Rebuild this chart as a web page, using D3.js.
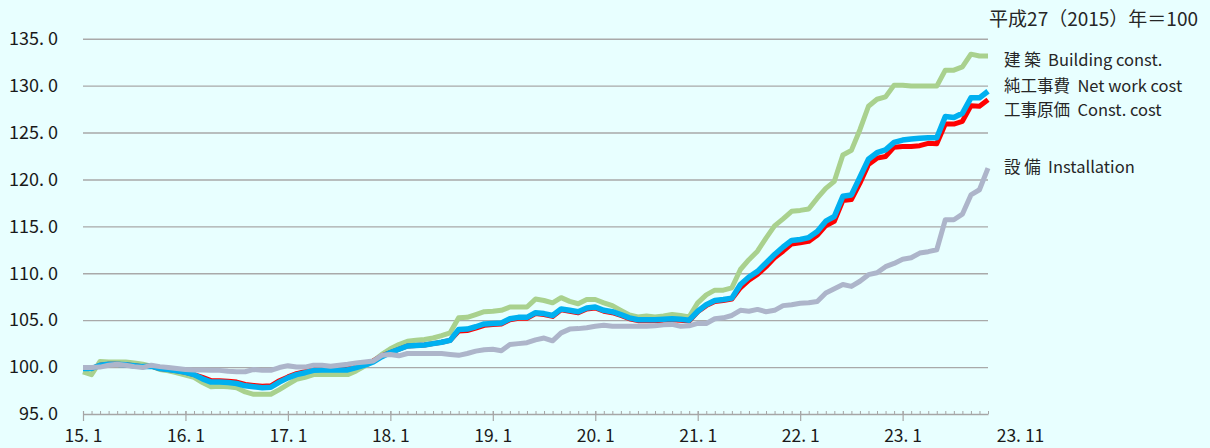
<!DOCTYPE html>
<html>
<head>
<meta charset="utf-8">
<script src="https://cdn.jsdelivr.net/npm/d3@7"></script>
<style>
  html, body { margin: 0; padding: 0; background: #e8ffff; }
  svg { display: block; font-family: "Noto Sans CJK JP", "Noto Sans", sans-serif; }
</style>
</head>
<body>
<script>
// monthly index, 2015.1 .. 2023.11 (base 2015 = 100)
const building = [
  99.5, 99.2, 100.6, 100.55, 100.55, 100.55, 100.45, 100.3, 100.1, 99.75, 99.6, 99.4,
  99.15, 98.9, 98.35, 97.9, 97.95, 97.9, 97.8, 97.35, 97.1, 97.1, 97.1, 97.6,
  98.15, 98.7, 98.9, 99.2, 99.2, 99.2, 99.2, 99.2, 99.6, 100.1, 100.65, 101.35,
  101.95, 102.4, 102.75, 102.85, 102.95, 103.1, 103.35, 103.65, 105.25, 105.3, 105.6, 105.9,
  105.95, 106.05, 106.4, 106.4, 106.4, 107.25, 107.1, 106.85, 107.4, 107.0, 106.75, 107.2,
  107.2, 106.85, 106.55, 106.05, 105.55, 105.35, 105.45, 105.35, 105.45, 105.6, 105.5, 105.35,
  106.85, 107.7, 108.2, 108.2, 108.45, 110.4, 111.45, 112.35, 113.75, 115.05, 115.8, 116.6,
  116.7, 116.85, 118.0, 119.05, 119.8, 122.6, 123.1, 125.3, 127.8, 128.55, 128.8, 130.05,
  130.05, 129.95, 129.95, 129.95, 129.95, 131.65, 131.65, 132.0, 133.35, 133.15, 133.15
];
const netWorkCost = [
  99.85, 99.85, 100.2, 100.3, 100.3, 100.25, 100.15, 100.05, 100.1, 99.85, 99.75, 99.6,
  99.45, 99.2, 98.75, 98.4, 98.4, 98.35, 98.25, 98.0, 97.9, 97.8, 97.85, 98.4,
  98.85, 99.2, 99.4, 99.65, 99.7, 99.7, 99.7, 99.7, 99.95, 100.2, 100.55, 101.1,
  101.55, 101.9, 102.25, 102.3, 102.35, 102.5, 102.65, 102.85, 104.0, 104.05, 104.3, 104.6,
  104.65, 104.7, 105.15, 105.3, 105.3, 105.8, 105.7, 105.5, 106.2, 106.05, 105.9, 106.3,
  106.4, 106.05, 105.9, 105.6, 105.25, 105.05, 105.05, 105.05, 105.1, 105.15, 105.1, 105.0,
  105.95, 106.65, 107.1, 107.2, 107.35, 108.8, 109.6, 110.2, 111.1, 112.0, 112.8, 113.5,
  113.6, 113.8, 114.45, 115.55, 116.05, 118.2, 118.35, 120.25, 122.15, 122.85, 123.15, 123.95,
  124.2, 124.3, 124.4, 124.45, 124.45, 126.7, 126.6, 127.05, 128.7, 128.7, 129.4
];
const constCost = [
  99.85, 99.85, 100.2, 100.3, 100.3, 100.25, 100.15, 100.05, 100.1, 99.85, 99.75, 99.6,
  99.45, 99.2, 98.9, 98.55, 98.55, 98.5, 98.4, 98.15, 98.05, 97.95, 98.0, 98.55,
  98.95, 99.3, 99.5, 99.75, 99.8, 99.8, 99.8, 99.8, 100.05, 100.3, 100.65, 101.2,
  101.55, 101.9, 102.25, 102.3, 102.35, 102.5, 102.65, 102.85, 103.85, 103.9, 104.15, 104.45,
  104.55, 104.6, 105.05, 105.2, 105.2, 105.7, 105.6, 105.4, 106.1, 105.95, 105.8, 106.2,
  106.3, 105.95, 105.8, 105.5, 105.15, 104.95, 104.95, 104.95, 105.0, 105.05, 105.0, 104.9,
  105.9, 106.55, 107.0, 107.1, 107.25, 108.45, 109.27, 109.87, 110.7, 111.65, 112.35, 113.13,
  113.24, 113.4, 114.05, 115.07, 115.53, 117.74, 117.85, 119.6, 121.6, 122.27, 122.45, 123.44,
  123.5, 123.5, 123.6, 123.85, 123.8, 125.9, 125.9, 126.2, 127.85, 127.8, 128.5
];
const installation = [
  99.95, 99.95, 100.0, 100.2, 100.3, 100.2, 100.05, 99.95, 100.2, 100.05, 99.95, 99.85,
  99.75, 99.7, 99.7, 99.65, 99.65, 99.55, 99.5, 99.5, 99.75, 99.65, 99.65, 99.95,
  100.15, 100.0, 100.0, 100.2, 100.2, 100.1, 100.2, 100.3, 100.45, 100.55, 100.65, 101.25,
  101.35, 101.2, 101.45, 101.45, 101.45, 101.45, 101.45, 101.35, 101.25, 101.45, 101.7, 101.85,
  101.9, 101.75, 102.4, 102.5, 102.6, 102.9, 103.1, 102.8, 103.65, 104.05, 104.1, 104.2,
  104.35, 104.45, 104.35, 104.35, 104.35, 104.35, 104.35, 104.4, 104.5, 104.55, 104.35, 104.4,
  104.65, 104.65, 105.15, 105.25, 105.5, 106.05, 105.95, 106.15, 105.9, 106.05, 106.55, 106.65,
  106.8, 106.85, 107.0, 107.9, 108.35, 108.8, 108.6, 109.15, 109.85, 110.05, 110.7, 111.05,
  111.5, 111.65, 112.15, 112.3, 112.5, 115.7, 115.7, 116.3, 118.35, 118.9, 121.2
];

// x tick positions (month index) and their labels
const xTickIndex = [0, 12, 24, 36, 48, 60, 72, 84, 96, 106];
const xTickLabels = ["15. 1", "16. 1", "17. 1", "18. 1", "19. 1", "20. 1", "21. 1", "22. 1", "23. 1", "23. 11"];
const yTicks = [95, 100, 105, 110, 115, 120, 125, 130, 135];
const yTickLabels = ["95. 0", "100. 0", "105. 0", "110. 0", "115. 0", "120. 0", "125. 0", "130. 0", "135. 0"];

const seriesNames = ["建 築  Building const.", "純工事費  Net work cost", "工事原価  Const. cost", "設 備  Installation"];
const unitNote = "平成27（2015）年＝100";

let svg = null;
let x, y = null;
const W = 1210, H = 448;

appendSvg("body");
setupScales();
appendGrid();
appendXAxis();
appendYAxis();
appendLines();
appendLabels();

function appendSvg(el) {
  svg = d3.select(el).append("svg")
    .attr("width", W)
    .attr("height", H);
  svg.append("rect").attr("width", W).attr("height", H).attr("fill", "#e8ffff");
}

function setupScales() {
  x = d3.scaleLinear().domain([0, building.length - 1]).range([83, 988]);
  y = d3.scaleLinear().domain([95, 135]).range([414, 38.7]);
}

function appendGrid() {
  const g = svg.append("g")
    .attr("transform", `translate(${x(0)},0)`)
    .call(d3.axisLeft(y).tickValues(yTicks.slice(1)).tickSize(-(x.range()[1] - x.range()[0])).tickFormat(""));
  g.select(".domain").remove();
  g.selectAll("line").attr("stroke", "#a9a9a9").attr("stroke-width", 1.4);
}

function appendXAxis() {
  // minor ticks, one per month, pointing up
  const minor = svg.append("g")
    .attr("transform", `translate(0,${y(95)})`)
    .call(d3.axisBottom(x).tickValues(d3.range(building.length)).tickSizeInner(-3).tickSizeOuter(0).tickFormat(""));
  minor.select(".domain").attr("stroke", "#a6a6a6").attr("stroke-width", 1.4);
  minor.selectAll("line").attr("stroke", "#a6a6a6");

  // major ticks (January) + labels
  const major = svg.append("g")
    .attr("transform", `translate(0,${y(95)})`)
    .call(d3.axisBottom(x).tickValues(xTickIndex).tickSize(7).tickPadding(9)
      .tickFormat((d, i) => xTickLabels[i]));
  major.select(".domain").remove();
  major.selectAll("line").attr("y1", -3).attr("stroke", "#a6a6a6").attr("stroke-width", 1.2);
  major.selectAll("text")
    .attr("font-size", 17.5)
    .attr("fill", "#1a1a1a")
    .style("font-family", '"Noto Sans CJK JP", sans-serif');
  // last label sits to the right of the axis end, no tick
  const last = major.selectAll(".tick").filter(d => d === 106);
  last.select("line").remove();
  last.select("text").attr("x", 32);
}

function appendYAxis() {
  const g = svg.append("g")
    .attr("transform", `translate(${x(0)},0)`)
    .call(d3.axisLeft(y).tickValues(yTicks).tickSize(0).tickPadding(25)
      .tickFormat((d, i) => yTickLabels[i]));
  g.select(".domain").remove();
  g.selectAll("text")
    .attr("font-size", 18)
    .attr("fill", "#1a1a1a")
    .style("font-family", '"Noto Sans CJK JP", sans-serif');
}

function appendLines() {
  const line = d3.line()
    .x((d, i) => x(i))
    .y(d => y(d));

  const series = [
    {values: building, color: "#a9d18e", w: 5},
    {values: constCost, color: "#ff0000", w: 5},
    {values: netWorkCost, color: "#00b0f0", w: 5.5},
    {values: installation, color: "#adb5ca", w: 5}
  ];

  svg.selectAll("path.series")
    .data(series)
    .enter()
    .append("path")
    .attr("class", "series")
    .attr("d", d => line(d.values))
    .attr("fill", "none")
    .attr("stroke", d => d.color)
    .attr("stroke-width", d => d.w)
    .attr("stroke-linejoin", "round");
}

function appendLabels() {
  svg.append("text")
    .attr("x", 1198)
    .attr("y", 26)
    .attr("text-anchor", "end")
    .attr("font-size", 19)
    .attr("fill", "#262626")
    .text(unitNote);

  const labelY = [66, 92, 116, 173];
  svg.selectAll("text.legend")
    .data(seriesNames)
    .enter()
    .append("text")
    .attr("class", "legend")
    .attr("x", 1004)
    .attr("y", (d, i) => labelY[i])
    .attr("font-size", 16.5)
    .attr("fill", "#262626")
    .style("white-space", "pre")
    .text(d => d);
}
</script>
</body>
</html>
